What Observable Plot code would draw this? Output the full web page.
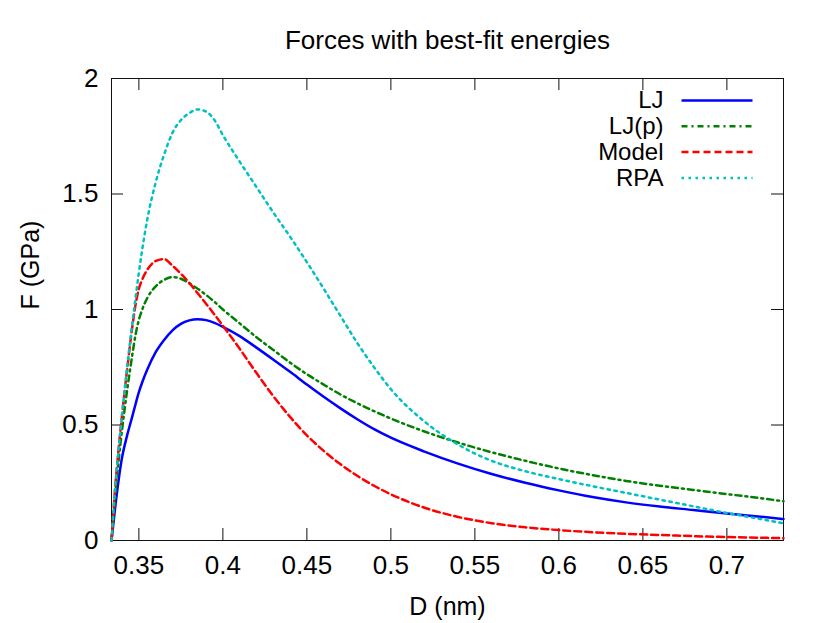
<!DOCTYPE html>
<html><head><meta charset="utf-8">
<script src="https://cdn.jsdelivr.net/npm/d3@7"></script>
<script src="https://cdn.jsdelivr.net/npm/@observablehq/plot@0.6"></script>
<style>body{margin:0;background:#fff}</style>
</head><body><div id="chart"></div>
<script>
// Separation D (nm)
const D = [0.3337,0.336,0.338,0.340,0.343,0.346,0.348,0.35,0.352,0.355,0.36,0.365,0.37,0.375,0.38,0.385,0.39,0.395,0.40,0.41,0.42,0.43,0.44,0.45,0.46,0.47,0.48,0.49,0.50,0.52,0.54,0.56,0.58,0.60,0.62,0.64,0.66,0.68,0.70,0.72,0.7337];
// Force F (GPa) per model
const LJ    = [0,0.15,0.265,0.36,0.455,0.535,0.59,0.642,0.685,0.74,0.815,0.868,0.91,0.938,0.953,0.958,0.954,0.942,0.925,0.885,0.835,0.783,0.73,0.675,0.622,0.572,0.525,0.482,0.445,0.385,0.333,0.288,0.25,0.217,0.188,0.165,0.147,0.132,0.117,0.103,0.093];
const LJp   = [0,0.20,0.35,0.48,0.65,0.80,0.89,0.955,1.00,1.05,1.10,1.128,1.14,1.133,1.113,1.09,1.063,1.033,1.00,0.94,0.88,0.825,0.77,0.72,0.675,0.632,0.594,0.56,0.528,0.472,0.424,0.382,0.345,0.312,0.283,0.258,0.237,0.219,0.201,0.183,0.170];
const Model = [0,0.24,0.40,0.545,0.74,0.92,1.02,1.09,1.13,1.172,1.21,1.218,1.19,1.155,1.115,1.07,1.025,0.978,0.93,0.83,0.725,0.625,0.535,0.455,0.388,0.33,0.28,0.237,0.200,0.142,0.102,0.075,0.057,0.045,0.036,0.029,0.024,0.019,0.015,0.012,0.010];
const RPA   = [0,0.24,0.40,0.545,0.75,0.935,1.05,1.16,1.26,1.39,1.55,1.67,1.765,1.82,1.85,1.866,1.857,1.82,1.755,1.64,1.53,1.42,1.315,1.205,1.09,0.972,0.855,0.75,0.655,0.515,0.415,0.345,0.30,0.266,0.235,0.206,0.177,0.148,0.119,0.093,0.074];

const seriesNames  = ["LJ","LJ(p)","Model","RPA"];
const seriesValues = [LJ, LJp, Model, RPA];
const seriesColors = ["#0000ff","#008000","#ff0000","#00c0c0"];
const seriesDash   = [null,"6,4,2,4","7,4","2.5,4.5"];

const xTicks = [0.35,0.4,0.45,0.5,0.55,0.6,0.65,0.7];
const yTicks = [0,0.5,1,1.5,2];
const xDomain = [0.3337,0.7337];
const yDomain = [0,2];

const W = 830, H = 623;
const mL = 111, mR = 47, mT = 78, mB = 83;
const fw = W - mL - mR, fh = H - mT - mB;
const font = "'Liberation Sans', Arial, Helvetica, sans-serif";

const xs = d3.scaleLinear().domain(xDomain).range([0, fw]);
const ys = d3.scaleLinear().domain(yDomain).range([fh, 0]);

const rows = seriesNames.flatMap((s, k) => D.map((d, i) => ({D: d, F: seriesValues[k][i], s})));

// legend rows (positioned in frame-relative pixels, converted through scales)
const legend = seriesNames.map((s, k) => ({
  s, k,
  tx: xs.invert(663 - mL), lx1: xs.invert(681 - mL), lx2: xs.invert(752 - mL),
  y: ys.invert(22 + 25.8 * k)
}));

const marks = [
  Plot.frame({stroke: "#111", strokeWidth: 1}),
  Plot.tickX(xTicks, {x: d => d, insetTop: fh - 12, stroke: "#111"}),
  Plot.tickX(xTicks, {x: d => d, insetBottom: fh - 12, stroke: "#111"}),
  Plot.tickY(yTicks, {y: d => d, insetRight: fw - 12, stroke: "#111"}),
  Plot.tickY(yTicks, {y: d => d, insetLeft: fw - 12, stroke: "#111"}),
  Plot.axisX({ticks: xTicks, tickSize: 0, tickPadding: 15, fontSize: 26, label: null, tickFormat: d => String(d)}),
  Plot.axisY({ticks: yTicks, tickSize: 0, tickPadding: 13, fontSize: 26, label: null, tickFormat: d => String(d)}),
  ...seriesNames.map((s, k) => Plot.line(rows.filter(r => r.s === s), {
    x: "D", y: "F", stroke: seriesColors[k], strokeWidth: 2.5,
    strokeDasharray: seriesDash[k] || undefined, curve: "monotone-x"
  })),
  Plot.text(legend, {x: "tx", y: "y", text: "s", textAnchor: "end", fontSize: 24, fill: "#000"}),
  ...legend.map(l => Plot.link([l], {x1: "lx1", x2: "lx2", y1: "y", y2: "y",
    stroke: seriesColors[l.k], strokeWidth: 2.5, strokeDasharray: seriesDash[l.k] || undefined})),
  Plot.text(["Forces with best-fit energies"], {frameAnchor: "top", dy: -38, lineAnchor: "middle", fontSize: 26}),
  Plot.text(["D (nm)"], {frameAnchor: "bottom", dy: 66, lineAnchor: "middle", fontSize: 25}),
  Plot.text(["F (GPa)"], {frameAnchor: "left", dx: -81, rotate: -90, lineAnchor: "middle", fontSize: 25})
];

const chart = Plot.plot({
  width: W, height: H,
  marginLeft: mL, marginRight: mR, marginTop: mT, marginBottom: mB,
  x: {domain: xDomain, axis: null},
  y: {domain: yDomain, axis: null},
  style: {fontFamily: font, background: "#fff", color: "#000"},
  marks
});
document.getElementById("chart").appendChild(chart);
</script>
</body></html>
